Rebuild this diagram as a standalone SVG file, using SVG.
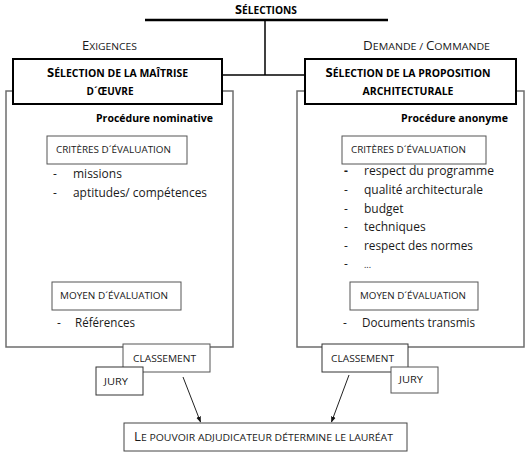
<svg xmlns="http://www.w3.org/2000/svg" width="526" height="457" viewBox="0 0 526 457">
  <defs>
    <marker id="arrow" viewBox="0 0 10 10" refX="9" refY="5" markerWidth="6" markerHeight="6" orient="auto" markerUnits="userSpaceOnUse">
      <path d="M0,1 L10,5 L0,9 Z" fill="#111"/>
    </marker>
    <style>
      text { font-family: "Open Sans", "Noto Sans", "DejaVu Sans", sans-serif; fill: #1a1a1a; }
      .sc { font-size: 9.5px; }
      .sc .cap { font-size: 12px; }
      .scb { font-size: 10px; font-weight: bold; fill: #000; }
      .scb .cap { font-size: 12.5px; }
      .proc { font-size: 11px; font-weight: bold; fill: #000; }
      .item { font-size: 12px; }
      .title { stroke: #000; stroke-width: 2; fill: #fff; }
      .panel { stroke: #6e6e6e; stroke-width: 1.5; fill: none; }
      .box { stroke: #555; stroke-width: 1; fill: #fff; }
      .link { stroke: #000; stroke-width: 1.5; fill: none; }
      .arrow { stroke: #222; stroke-width: 1; fill: none; marker-end: url(#arrow); }
    </style>
  </defs>

  <!-- tree connectors -->
  <g id="connectors">
    <line class="link" x1="145" y1="20" x2="388" y2="20" style="stroke-width:2.5"/>
    <line class="link" x1="265" y1="20" x2="265" y2="75"/>
    <line class="link" x1="222" y1="75" x2="305" y2="75"/>
    <line class="arrow" x1="183" y1="377" x2="200.5" y2="422"/>
    <line class="arrow" x1="349" y1="375" x2="331.5" y2="422"/>
  </g>

  <g id="root">
    <text class="scb" x="266" y="14" text-anchor="middle" textLength="62" lengthAdjust="spacingAndGlyphs"><tspan class="cap">S</tspan>ÉLECTIONS</text>
  </g>

  <g id="labels">
    <text class="sc" x="82" y="50" textLength="55" lengthAdjust="spacingAndGlyphs"><tspan class="cap">E</tspan>XIGENCES</text>
    <text class="sc" x="363" y="50" textLength="127" lengthAdjust="spacingAndGlyphs"><tspan class="cap">D</tspan>EMANDE / <tspan class="cap">C</tspan>OMMANDE</text>
  </g>

  <!-- left branch: selection of the design team -->
  <g id="panel-left">
    <path class="panel" d="M13,91 H6 V347 H233 V91 H222"/>
  </g>
  <g id="maitrise">
    <rect class="title" x="13" y="59" width="209" height="45"/>
    <text class="scb" x="117.5" y="77" text-anchor="middle" textLength="141" lengthAdjust="spacingAndGlyphs"><tspan class="cap">S</tspan>ÉLECTION DE LA MAÎTRISE</text>
    <text class="scb" x="110" y="95" text-anchor="middle" textLength="47" lengthAdjust="spacingAndGlyphs">D´ŒUVRE</text>
    <text class="proc" x="213" y="122" text-anchor="end" textLength="117" lengthAdjust="spacingAndGlyphs">Procédure nominative</text>
  </g>
  <g id="criteres-left">
    <rect class="box" x="47" y="136" width="140" height="28"/>
    <text class="sc" x="56" y="153" textLength="115" lengthAdjust="spacingAndGlyphs">CRITÈRES D´ÉVALUATION</text>
    <text class="item" x="53" y="178">-</text>
    <text class="item" x="73" y="178">missions</text>
    <text class="item" x="53" y="197">-</text>
    <text class="item" x="73" y="197" textLength="134" lengthAdjust="spacingAndGlyphs">aptitudes/ compétences</text>
  </g>
  <g id="moyen-left">
    <rect class="box" x="52" y="282" width="129" height="28"/>
    <text class="sc" x="60" y="299" textLength="108" lengthAdjust="spacingAndGlyphs">MOYEN D´ÉVALUATION</text>
    <text class="item" x="57" y="327">-</text>
    <text class="item" x="75" y="327" textLength="60" lengthAdjust="spacingAndGlyphs">Références</text>
  </g>
  <g id="classement-left">
    <rect class="box" x="123" y="344" width="87" height="28"/>
    <text class="sc" x="133" y="362" textLength="63" lengthAdjust="spacingAndGlyphs">CLASSEMENT</text>
  </g>
  <g id="jury-left">
    <rect class="box" x="96" y="367" width="47" height="28" style="stroke:#333"/>
    <text class="sc" x="104" y="385" textLength="24" lengthAdjust="spacingAndGlyphs">JURY</text>
  </g>

  <!-- right branch: selection of the architectural proposal -->
  <g id="panel-right">
    <path class="panel" d="M305,91 H297 V347 H524 V91 H516"/>
  </g>
  <g id="proposition">
    <rect class="title" x="305" y="59" width="211" height="45"/>
    <text class="scb" x="408" y="77" text-anchor="middle" textLength="165" lengthAdjust="spacingAndGlyphs"><tspan class="cap">S</tspan>ÉLECTION DE LA PROPOSITION</text>
    <text class="scb" x="408" y="95" text-anchor="middle" textLength="91" lengthAdjust="spacingAndGlyphs">ARCHITECTURALE</text>
    <text class="proc" x="508" y="122" text-anchor="end" textLength="107" lengthAdjust="spacingAndGlyphs">Procédure anonyme</text>
  </g>
  <g id="criteres-right">
    <rect class="box" x="342" y="136" width="144" height="28"/>
    <text class="sc" x="351" y="153" textLength="115" lengthAdjust="spacingAndGlyphs">CRITÈRES D´ÉVALUATION</text>
    <text class="item" x="344" y="175" style="font-weight:bold">-</text>
    <text class="item" x="364" y="175" textLength="130" lengthAdjust="spacingAndGlyphs">respect du programme</text>
    <text class="item" x="344" y="194">-</text>
    <text class="item" x="364" y="194" textLength="119" lengthAdjust="spacingAndGlyphs">qualité architecturale</text>
    <text class="item" x="344" y="213">-</text>
    <text class="item" x="364" y="213">budget</text>
    <text class="item" x="344" y="231">-</text>
    <text class="item" x="364" y="231">techniques</text>
    <text class="item" x="344" y="250">-</text>
    <text class="item" x="364" y="250" textLength="109" lengthAdjust="spacingAndGlyphs">respect des normes</text>
    <text class="item" x="344" y="268">-</text>
    <text class="item" x="364" y="268" style="font-size:9px">...</text>
  </g>
  <g id="moyen-right">
    <rect class="box" x="350" y="282" width="128" height="28"/>
    <text class="sc" x="360" y="299" textLength="106" lengthAdjust="spacingAndGlyphs">MOYEN D´ÉVALUATION</text>
    <text class="item" x="343" y="327">-</text>
    <text class="item" x="362" y="327" textLength="113" lengthAdjust="spacingAndGlyphs">Documents transmis</text>
  </g>
  <g id="classement-right">
    <rect class="box" x="322" y="344" width="86" height="28" style="stroke:#333"/>
    <text class="sc" x="331" y="362" textLength="63" lengthAdjust="spacingAndGlyphs">CLASSEMENT</text>
  </g>
  <g id="jury-right">
    <rect class="box" x="391" y="367" width="47" height="26"/>
    <text class="sc" x="399" y="383" textLength="24" lengthAdjust="spacingAndGlyphs">JURY</text>
  </g>

  <!-- outcome -->
  <g id="laureat">
    <rect class="box" x="124" y="423" width="283" height="28" style="stroke:#444"/>
    <text class="sc" x="134" y="441" textLength="259" lengthAdjust="spacingAndGlyphs"><tspan class="cap">L</tspan>E POUVOIR ADJUDICATEUR DÉTERMINE LE LAURÉAT</text>
  </g>
</svg>
